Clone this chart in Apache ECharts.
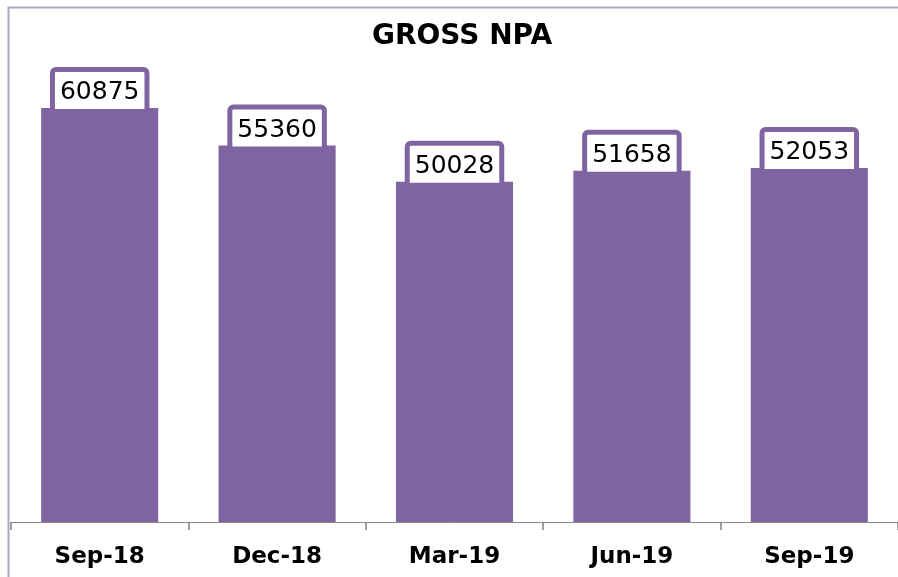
<!DOCTYPE html>
<html>
<head>
<meta charset="utf-8">
<script src="https://cdn.jsdelivr.net/npm/echarts@6/dist/echarts.min.js"></script>
<style>
  html, body { margin: 0; padding: 0; background: #fff; }
  #chart { width: 898px; height: 577px; }
</style>
</head>
<body>
<div id="chart"></div>
<script>
const categories = ['Sep-18', 'Dec-18', 'Mar-19', 'Jun-19', 'Sep-19']
const grossNpa = [60875, 55360, 50028, 51658, 52053]

const purple = '#8064A2'

const chart = echarts.init(document.getElementById('chart'))
chart.setOption({
  animation: false,
  title: {
    text: 'GROSS NPA',
    left: 367,
    top: 18,
    textStyle: { fontFamily: 'DejaVu Sans', fontWeight: 'bold', fontSize: 28, color: '#000' },
  },
  graphic: [{
    type: 'rect',
    left: 6, top: 5,
    shape: { width: 1000, height: 1000 },
    style: { fill: 'none', stroke: '#B3A2C7', lineWidth: 2 },
    silent: true,
  }],
  grid: { left: 11, top: 46, width: 891, bottom: 55, containLabel: false },
  xAxis: {
    type: 'category',
    data: categories,
    axisLine: { lineStyle: { color: '#868686', width: 1 } },
    axisTick: { show: true, length: 8, lineStyle: { color: '#7f7f7f', width: 1.5 } },
    axisLabel: { margin: 24, fontFamily: 'DejaVu Sans', fontWeight: 'bold', fontSize: 23, color: '#000' },
  },
  yAxis: { type: 'value', min: 0, max: 70000, show: false, splitLine: { show: false } },
  series: [{
    type: 'bar',
    data: grossNpa,
    barWidth: '66%',
    itemStyle: { color: purple },
    label: {
      show: true,
      position: 'top',
      distance: -1,
      fontFamily: 'DejaVu Sans',
      fontSize: 25,
      color: '#000',
      backgroundColor: '#fff',
      borderColor: purple,
      borderWidth: 5,
      borderRadius: [1, 1, 0, 0],
      padding: [8, 5, 4, 5],
    },
  }],
})
</script>
</body>
</html>
